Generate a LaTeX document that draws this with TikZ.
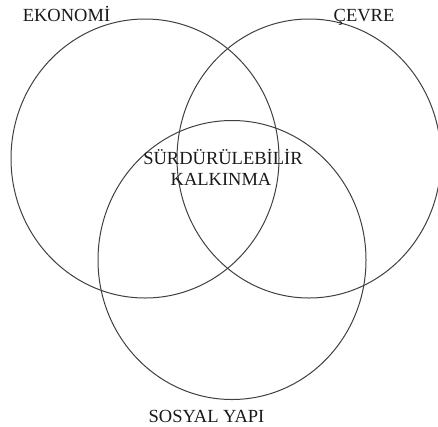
\documentclass[tikz,border=0pt]{standalone}
\usepackage{fontspec}
\setmainfont{Liberation Serif}
\begin{document}
\begin{tikzpicture}[x=1pt,y=-1pt,
  ring/.style={draw=black!75,line width=1pt},
  lbl/.style={font=\fontsize{18.5}{21}\selectfont,text=black!90,inner sep=0pt}]
\useasboundingbox (0,0) rectangle (438,426);
\clip (0,0) rectangle (438,426);
\draw[ring] (145,158.5) ellipse [x radius=134pt, y radius=139.5pt];
\draw[ring] (309,158.5) ellipse [x radius=132pt, y radius=139.5pt];
\draw[ring] (232,260) ellipse [x radius=134pt, y radius=139.5pt];
\node[lbl,anchor=base] (eko) at (66.5,21) {EKONOMİ};
\node[lbl,anchor=base] (cev) at (364,21) {ÇEVRE};
\node[lbl,anchor=base] (sur) at (223,164) {SÜRDÜRÜLEBİLİR};
\node[lbl,anchor=base] (kal) at (221,185) {KALKINMA};
\node[lbl,anchor=base] (sos) at (206.5,422) {SOSYAL YAPI};
\end{tikzpicture}
\end{document}
